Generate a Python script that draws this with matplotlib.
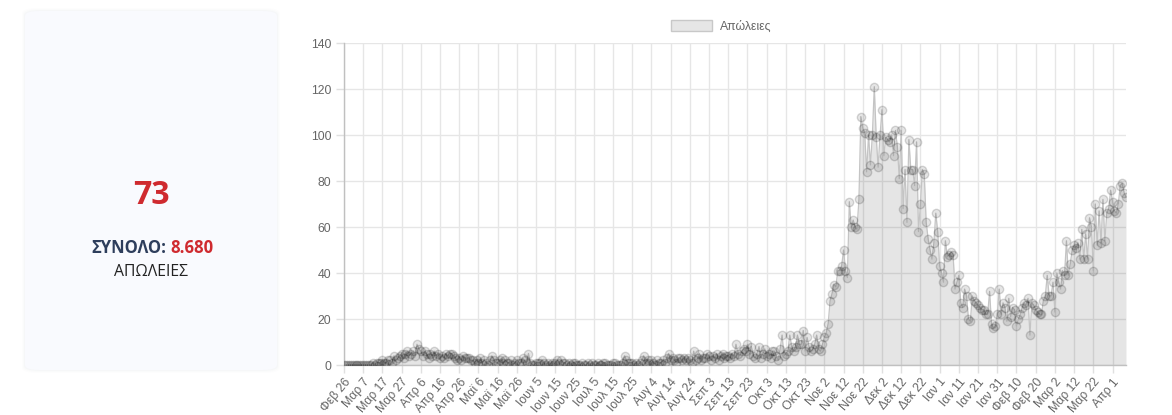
import matplotlib
matplotlib.use("Agg")
import matplotlib.pyplot as plt
import numpy as np
from matplotlib.patches import FancyBboxPatch, Patch

# daily deaths, Feb 26 2020 .. Apr 8 2021
feb_2020 = [0, 0, 0, 0]
mar_2020 = [0] * 11 + [1, 0, 1, 1, 1, 2, 1, 1, 2, 2, 1, 4, 2, 3, 4, 5, 3, 5, 6, 4]
apr_2020 = [5, 6, 4, 9, 7, 6, 4, 6, 5, 3, 5, 4, 6, 4, 5, 3, 4, 3, 5, 4,
            5, 5, 4, 3, 2, 3, 2, 4, 3, 3]
may_2020 = [3, 2, 2, 1, 2, 1, 3, 1, 2, 1, 0, 2, 4, 2, 1, 1, 2, 3, 1, 2,
            1, 1, 2, 0, 1, 2, 1, 1, 3, 2, 1]
jun_2020 = [5, 1, 0, 0, 1, 1, 1, 2, 1, 0, 1, 0, 1, 0, 1, 2, 1, 2, 1, 1,
            0, 1, 0, 1, 1, 0, 0, 0, 1, 0]
jul_2020 = [0, 1, 0, 1, 0, 0, 1, 0, 0, 1, 1, 0, 0, 0, 1, 1, 0, 0, 0, 1,
            4, 2, 1, 1, 1, 0, 1, 0, 1, 2, 4]
aug_2020 = [1, 2, 1, 2, 1, 0, 2, 1, 1, 2, 1, 3, 5, 2, 3, 2, 1, 3, 3, 2,
            3, 2, 3, 2, 1, 6, 2, 3, 5, 2, 3]
sep_2020 = [3, 5, 4, 2, 4, 3, 5, 2, 4, 5, 3, 4, 4, 3, 5, 4, 9, 5, 4, 6,
            7, 6, 9, 5, 8, 4, 3, 5, 8, 3]
oct_2020 = [5, 7, 4, 5, 3, 6, 6, 4, 2, 7, 13, 4, 5, 6, 13, 8, 6, 8, 13, 9,
            9, 15, 6, 12, 8, 6, 7, 9, 13, 7, 6]
nov_2020 = [9, 12, 14, 18, 28, 31, 35, 34, 41, 41, 43, 50, 41, 38, 71, 60,
            63, 60, 59, 72, 108, 103, 101, 84, 100, 87, 100, 121, 99, 86]
dec_2020 = [100, 111, 91, 99, 98, 97, 100, 91, 102, 95, 81, 102, 68, 85, 62,
            98, 85, 85, 78, 97, 58, 70, 85, 83, 62, 55, 50, 46, 53, 66, 58]
jan_2021 = [43, 40, 36, 54, 47, 48, 49, 48, 33, 36, 39, 27, 25, 33, 30, 20,
            19, 30, 28, 27, 26, 25, 24, 24, 22, 22, 32, 18, 16, 17, 22]
feb_2021 = [33, 22, 27, 25, 19, 29, 21, 25, 24, 17, 20, 22, 25, 27, 26, 29,
            13, 27, 26, 24, 23, 22, 22, 28, 30, 39, 30, 30]
mar_2021 = [36, 23, 40, 36, 33, 41, 39, 54, 39, 44, 50, 52, 51, 53, 46, 59,
            46, 57, 46, 64, 60, 41, 70, 52, 67, 53, 72, 54, 66, 68, 76]
apr_2021 = [71, 67, 66, 70, 78, 79, 75, 73]

deaths = (feb_2020 + mar_2020 + apr_2020 + may_2020 + jun_2020 + jul_2020
          + aug_2020 + sep_2020 + oct_2020 + nov_2020 + dec_2020 + jan_2021
          + feb_2021 + mar_2021 + apr_2021)

tick_labels = [
    "Φεβ 26", "Μαρ 7", "Μαρ 17", "Μαρ 27", "Απρ 6", "Απρ 16", "Απρ 26",
    "Μαϊ 6", "Μαϊ 16", "Μαϊ 26", "Ιουν 5", "Ιουν 15", "Ιουν 25", "Ιουλ 5",
    "Ιουλ 15", "Ιουλ 25", "Αυγ 4", "Αυγ 14", "Αυγ 24", "Σεπ 3", "Σεπ 13",
    "Σεπ 23", "Οκτ 3", "Οκτ 13", "Οκτ 23", "Νοε 2", "Νοε 12", "Νοε 22",
    "Δεκ 2", "Δεκ 12", "Δεκ 22", "Ιαν 1", "Ιαν 11", "Ιαν 21", "Ιαν 31",
    "Φεβ 10", "Φεβ 20", "Μαρ 2", "Μαρ 12", "Μαρ 22", "Απρ 1",
]
tick_step = 10
y_ticks = [0, 20, 40, 60, 80, 100, 120, 140]

latest = "73"
total = "8.680"

plt.rcParams["font.family"] = ["Liberation Sans", "DejaVu Sans"]

W, H = 1172, 415
fig = plt.figure(figsize=(W / 100, H / 100), dpi=100)

# left summary card, with a faint shadow
for grow, alpha in ((3, 0.015), (2, 0.02), (1, 0.03)):
    shadow = FancyBboxPatch(((25 - grow) / W, 1 - (370 + grow) / H),
                            (252 + 2 * grow) / W, (359 + 2 * grow) / H,
                            boxstyle="round,pad=0,rounding_size=0.013",
                            transform=fig.transFigure, facecolor="#8898aa",
                            edgecolor="none", alpha=alpha)
    fig.patches.append(shadow)
card = FancyBboxPatch((25 / W, 1 - 370 / H), 252 / W, 359 / H,
                      boxstyle="round,pad=0,rounding_size=0.012",
                      transform=fig.transFigure, facecolor="#f9fafe",
                      edgecolor="none")
fig.patches.append(card)
fig.text(151 / W, 1 - 196 / H, latest, ha="center", va="center",
         fontsize=23, fontweight="bold", color="#cf2a2f", family="Open Sans")
fig.text(166 / W, 1 - 248 / H, "ΣΥΝΟΛΟ:", ha="right", va="center",
         fontsize=12, fontweight="bold", color="#2e3e5c", family="Open Sans")
fig.text(170 / W, 1 - 248 / H, total, ha="left", va="center",
         fontsize=12, fontweight="bold", color="#cf2a2f", family="Open Sans")
fig.text(151 / W, 1 - 272 / H, "ΑΠΩΛΕΙΕΣ", ha="center", va="center",
         fontsize=11.3, color="#222222", family="Open Sans")

# chart
ax = fig.add_axes([344 / W, 1 - 365 / H, (1126 - 344) / W, (365 - 43) / H])
x = np.arange(len(deaths))
ax.fill_between(x, deaths, 0, color="black", alpha=0.1, linewidth=0, zorder=2)
ax.plot(x, deaths, color="#c4c4c4", linewidth=0.9, zorder=3)
ax.plot(x, deaths, linestyle="none", marker="o", markersize=6,
        markerfacecolor=(0, 0, 0, 0.1), markeredgecolor=(0, 0, 0, 0.15),
        markeredgewidth=1, zorder=4)

ax.set_xlim(0, len(deaths) - 1)
ax.set_ylim(0, 140)
ax.set_yticks(y_ticks)
ax.set_xticks(np.arange(len(tick_labels)) * tick_step)
ax.set_xticklabels(tick_labels, rotation=50, ha="right",
                   rotation_mode="anchor")
ax.tick_params(axis="both", colors="#e0e0e0", labelcolor="#666666",
               labelsize=8.8, length=6, width=1)
ax.tick_params(axis="y", pad=3)
ax.tick_params(axis="x", pad=2)
ax.grid(True, color="#e6e6e6", linewidth=1, zorder=0)
ax.set_axisbelow(True)
for side in ("top", "right"):
    ax.spines[side].set_visible(False)
for side in ("left", "bottom"):
    ax.spines[side].set_color("#c0c0c0")
    ax.spines[side].set_linewidth(1)

fig.legend(handles=[Patch(facecolor="#e6e6e6", edgecolor="#c8c8c8",
                          linewidth=1, label="Απώλειες")],
           loc="center", bbox_to_anchor=(721 / W, 1 - 26 / H),
           frameon=False, fontsize=8.8, labelcolor="#666666",
           handlelength=3.4, handleheight=1.0, handletextpad=0.6)

fig.savefig("out.png", dpi=100)
